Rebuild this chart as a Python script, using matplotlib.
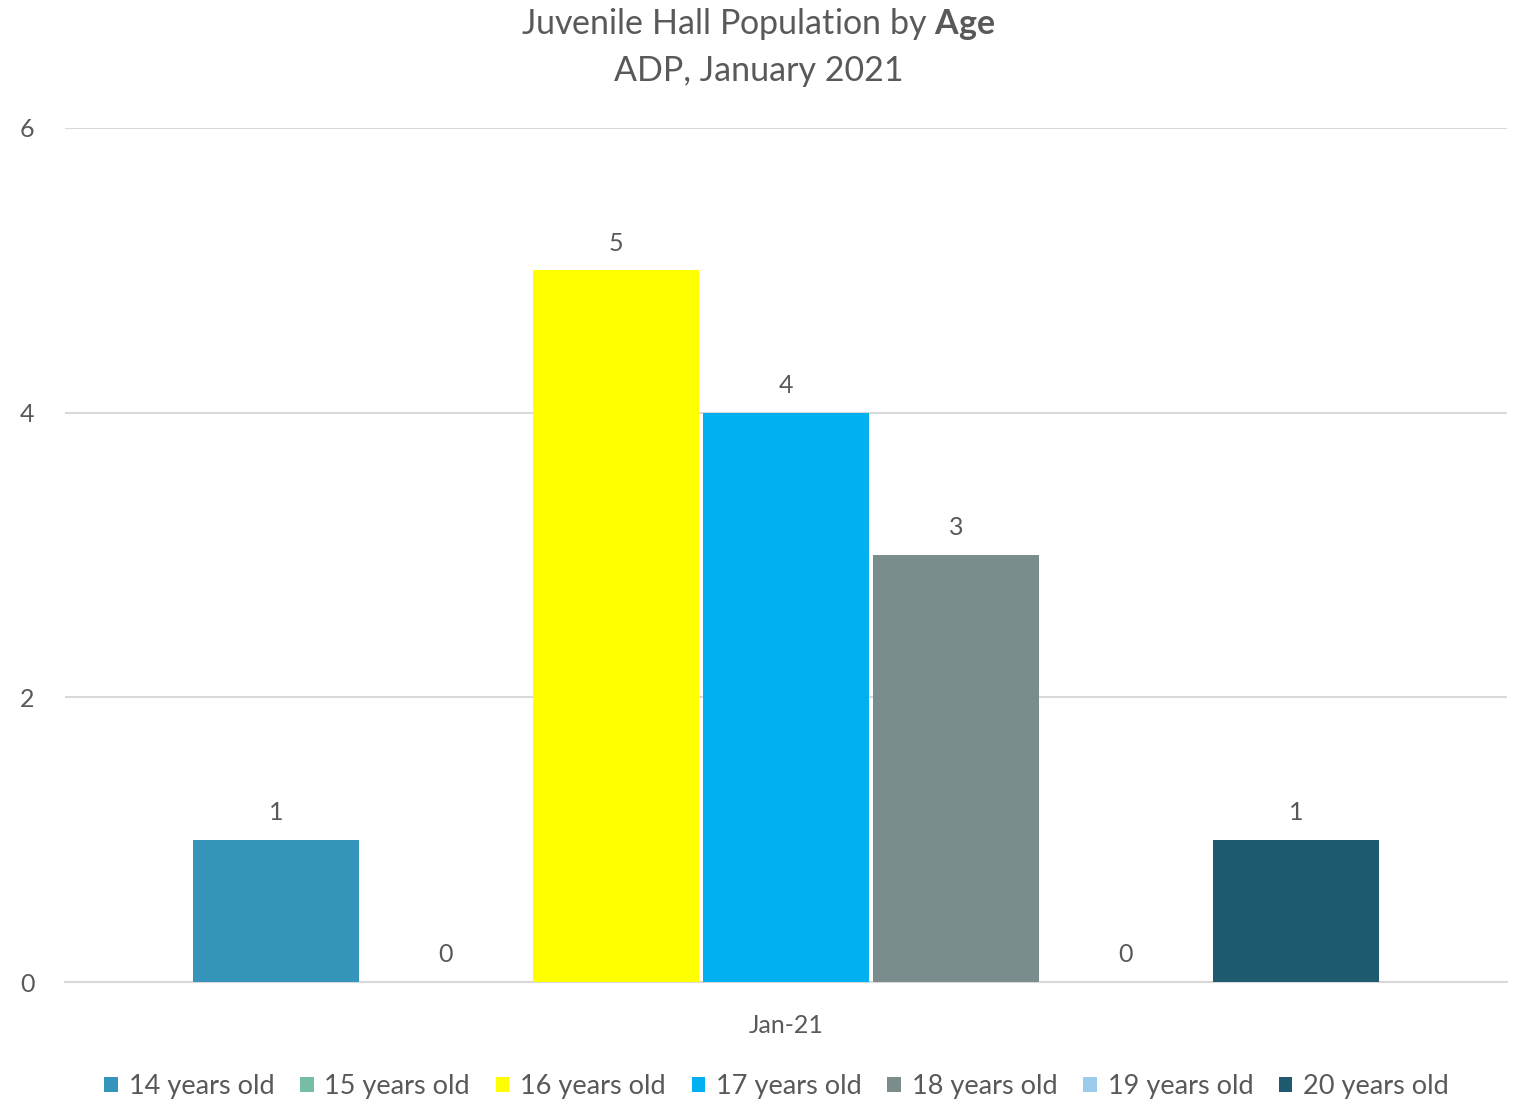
import matplotlib.pyplot as plt
import numpy as np

# data
categories = ["Jan-21"]
ages = ["14 years old", "15 years old", "16 years old", "17 years old",
        "18 years old", "19 years old", "20 years old"]
counts = [1, 0, 5, 4, 3, 0, 1]
colors = ["#3494BA", "#75BDA7", "#FFFF00", "#00B0F0", "#7B8C8C", "#9DCBEC", "#1F5A70"]

plt.rcParams["font.family"] = ["Lato", "DejaVu Sans"]
plt.rcParams["mathtext.fontset"] = "custom"
plt.rcParams["mathtext.rm"] = "Lato"
plt.rcParams["mathtext.bf"] = "Lato:bold"
txt = "#595959"

fig = plt.figure(figsize=(15.17, 11.03), dpi=100)
ax = fig.add_axes([0.0428, 0.1097, 0.9506, 0.7743])

step = 170 / 1442
width = 166 / 1442
n = len(ages)
for i, (lab, v, c) in enumerate(zip(ages, counts, colors)):
    x = (i - (n - 1) / 2) * step
    ax.bar(x, v, width=width, color=c, label=lab, zorder=3)
    ax.text(x, v + 0.11, str(v), ha="center", va="bottom", fontsize=18, color=txt, zorder=4)

ax.set_xlim(-0.5, 0.5)
ax.set_ylim(0, 6)
ax.set_yticks([0, 2, 4, 6])
ax.set_xticks([0])
ax.set_xticklabels(categories)
ax.grid(axis="y", color="#d9d9d9", linewidth=1.5, zorder=0)
for s in ["top", "right", "left"]:
    ax.spines[s].set_visible(False)
ax.spines["bottom"].set_color("#d9d9d9")
ax.spines["bottom"].set_linewidth(1.5)
ax.tick_params(axis="both", length=0, labelsize=18, colors=txt)
ax.tick_params(axis="x", pad=23)
ax.tick_params(axis="y", pad=22)

fig.text(0.5, 0.978, r"Juvenile Hall Population by $\bf{Age}$", ha="center", va="center",
         fontsize=24.5, color=txt)
fig.text(0.5, 0.936, "ADP, January 2021", ha="center", va="center", fontsize=24.5, color=txt)

fig.legend(loc="center", bbox_to_anchor=(0.512, 0.015), ncol=7, frameon=False,
           fontsize=19.5, labelcolor=txt, handlelength=0.5, handleheight=0.5,
           handletextpad=0.4, columnspacing=0.95)

fig.savefig("out.png", dpi=100)
